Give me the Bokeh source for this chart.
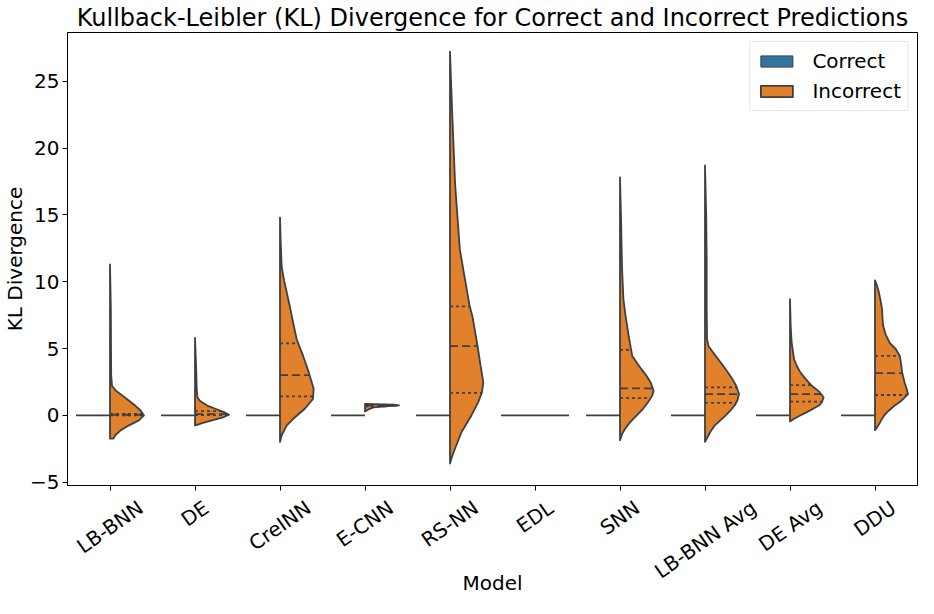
import numpy as np
from bokeh.plotting import figure
from bokeh.models import FixedTicker, Range1d, Legend, LegendItem
from bokeh.embed import file_html
from bokeh.resources import INLINE

# ---------------- data ----------------
models = ["LB-BNN", "DE", "CreINN", "E-CNN", "RS-NN", "EDL", "SNN",
          "LB-BNN Avg", "DE Avg", "DDU"]

# "Correct" predictions: every model collapses to a single value
correct_value = [0.0, 0.0, 0.0, 0.0, 0.0, 0.0, 0.0, 0.0, 0.0, 0.0]

# "Incorrect" predictions: estimated density profile (KL value, relative width)
inc_lbbnn_y = [-1.73, -1.48, -1.1, -0.74, -0.37, 0.0, 0.37, 0.74, 1.1, 1.48, 1.85, 2.2,
               3.0, 5.0, 8.0, 11.3]
inc_lbbnn_w = [0.1, 0.155, 0.32, 0.56, 0.85, 1.0, 0.9, 0.74, 0.56, 0.37, 0.175, 0.06,
               0.035, 0.03, 0.025, 0.0]
inc_de_y = [-0.74, -0.57, -0.37, -0.12, 0.05, 0.25, 0.5, 0.74, 1.1, 1.36, 2.0, 3.5, 5.8]
inc_de_w = [0.02, 0.21, 0.5, 0.85, 1.0, 0.85, 0.6, 0.36, 0.14, 0.07, 0.05, 0.035, 0.0]
inc_creinn_y = [-1.98, -1.48, -0.74, -0.25, 0.5, 1.24, 2.0, 3.2, 4.45, 5.7, 6.9, 8.16,
                10.1, 11.1, 13.0, 14.8]
inc_creinn_w = [0.0, 0.05, 0.2, 0.39, 0.73, 0.97, 0.99, 0.85, 0.68, 0.49, 0.39, 0.29,
                0.12, 0.05, 0.02, 0.0]
inc_ecnn_y = [0.3, 0.45, 0.6, 0.7, 0.75, 0.8, 0.87]
inc_ecnn_w = [0.0, 0.1, 0.25, 0.7, 1.0, 0.85, 0.0]
inc_rsnn_y = [-3.6, -3.0, -2.47, -1.24, 0.0, 1.0, 1.73, 2.47, 3.7, 5.2, 7.4, 8.16, 9.9,
              12.4, 17.3, 22.3, 25.0, 27.2]
inc_rsnn_w = [0.0, 0.07, 0.15, 0.34, 0.63, 0.83, 0.94, 0.98, 0.9, 0.81, 0.66, 0.58, 0.46,
              0.29, 0.15, 0.07, 0.03, 0.0]
inc_edl_y = [0.0]          # degenerate: all values equal
inc_edl_w = [1.0]
inc_snn_y = [-1.85, -1.4, -1.0, -0.5, 0.0, 0.5, 1.0, 1.5, 1.85, 2.47, 3.0, 3.46, 4.0,
             4.45, 5.3, 6.2, 7.5, 8.7, 11.0, 14.8, 17.8]
inc_snn_w = [0.0, 0.06, 0.15, 0.3, 0.49, 0.68, 0.83, 0.95, 0.99, 0.9, 0.77, 0.63, 0.48,
             0.36, 0.3, 0.24, 0.16, 0.1, 0.06, 0.03, 0.0]
inc_lbbnnavg_y = [-1.98, -1.5, -1.1, -0.74, -0.37, 0.0, 0.37, 0.74, 1.1, 1.6, 2.2, 2.7,
                  3.2, 3.7, 4.2, 4.7, 5.2, 5.7, 8.0, 11.6, 15.0, 18.7]
inc_lbbnnavg_w = [0.0, 0.1, 0.19, 0.29, 0.45, 0.61, 0.75, 0.87, 0.95, 1.0, 0.92, 0.81,
                  0.68, 0.54, 0.39, 0.24, 0.1, 0.06, 0.05, 0.05, 0.035, 0.0]
inc_deavg_y = [-0.45, -0.25, 0.0, 0.25, 0.5, 0.74, 1.0, 1.36, 1.8, 2.2, 2.7, 3.2, 3.7,
               4.2, 5.4, 6.7, 8.7]
inc_deavg_w = [0.0, 0.12, 0.3, 0.5, 0.68, 0.85, 0.94, 0.99, 0.85, 0.65, 0.47, 0.31, 0.2,
               0.12, 0.05, 0.02, 0.0]
inc_ddu_y = [-1.1, -0.74, -0.37, 0.0, 0.37, 0.74, 1.1, 1.6, 2.0, 2.47, 3.2, 3.8, 4.45,
             5.0, 5.4, 6.0, 6.7, 7.3, 7.9, 8.5, 9.15, 9.7, 10.1]
inc_ddu_w = [0.0, 0.1, 0.18, 0.27, 0.41, 0.58, 0.78, 0.97, 0.93, 0.87, 0.8, 0.77, 0.73,
             0.6, 0.44, 0.32, 0.24, 0.22, 0.21, 0.17, 0.12, 0.06, 0.0]

# quartiles of the incorrect distributions: (Q1, median, Q3)
inc_q1 = [0.01, 0.03, 1.43, 0.68, 1.68, 0.0, 1.29, 0.94, 1.04, 1.53]
inc_median = [0.05, 0.10, 3.02, 0.74, 5.19, 0.0, 2.03, 1.60, 1.60, 3.17]
inc_q3 = [0.12, 0.32, 5.39, 0.78, 8.16, 0.0, 4.90, 2.10, 2.27, 4.45]

y_ticks = [-5, 0, 5, 10, 15, 20, 25]

inc_profiles_y = [inc_lbbnn_y, inc_de_y, inc_creinn_y, inc_ecnn_y, inc_rsnn_y,
                  inc_edl_y, inc_snn_y, inc_lbbnnavg_y, inc_deavg_y, inc_ddu_y]
inc_profiles_w = [inc_lbbnn_w, inc_de_w, inc_creinn_w, inc_ecnn_w, inc_rsnn_w,
                  inc_edl_w, inc_snn_w, inc_lbbnnavg_w, inc_deavg_w, inc_ddu_w]

# ---------------- style ----------------
HALF = 0.4
FONT = "DejaVu Sans"
EDGE = "#3f3f3f"
BLUE = "#3274a1"
ORANGE = "#e1812c"
LW = 1.8
TICK_FS = 20
ROT = np.deg2rad(35)
W, H = 918, 598
BORDER_L, BORDER_R = 61, 1
PX_PER_CAT = (W - BORDER_L - BORDER_R) / len(models)

# DejaVu Sans advance widths (em): used to centre the rotated tick labels on
# their ticks the way matplotlib does (Bokeh right-aligns rotated labels).
DJV = {"L": 0.557, "B": 0.686, "-": 0.361, "N": 0.748, "D": 0.770, "E": 0.632,
       "C": 0.698, "r": 0.411, "e": 0.615, "I": 0.295, "R": 0.695, "S": 0.635,
       " ": 0.318, "A": 0.684, "v": 0.592, "g": 0.635, "U": 0.722}

p = figure(width=W, height=H, output_backend="svg", toolbar_location=None,
           x_range=Range1d(-0.5, 9.5), y_range=Range1d(-5.24, 28.64),
           min_border_left=BORDER_L, min_border_right=BORDER_R, min_border_top=4,
           min_border_bottom=100)

p.title.text = "Kullback-Leibler (KL) Divergence for Correct and Incorrect Predictions"
p.title.align = "center"
p.title.text_font = FONT
p.title.text_font_size = "24px"
p.title.text_font_style = "normal"
p.title.text_color = "black"
p.title.standoff = 2

p.xgrid.visible = False
p.ygrid.visible = False
p.outline_line_color = "black"
p.outline_line_width = 1
p.background_fill_color = "white"

centers = np.arange(len(models))

# Correct: degenerate -> horizontal line on the left half
p.segment(x0=centers - HALF, y0=correct_value, x1=centers, y1=correct_value,
          line_color=EDGE, line_width=LW)

# Incorrect: right half violins
xs, ys = [], []
deg_x0, deg_y = [], []
for i, (yy, ww) in enumerate(zip(inc_profiles_y, inc_profiles_w)):
    yy = np.asarray(yy, dtype=float)
    ww = np.asarray(ww, dtype=float)
    if len(yy) == 1:
        deg_x0.append(i)
        deg_y.append(yy[0])
        continue
    xs.append(np.concatenate([[i], i + HALF * ww, [i]]))
    ys.append(np.concatenate([[yy[0]], yy, [yy[-1]]]))

r_inc = p.patches(xs=xs, ys=ys, fill_color=ORANGE, line_color=EDGE, line_width=LW,
                  line_join="round")
p.segment(x0=deg_x0, y0=deg_y, x1=np.asarray(deg_x0) + HALF, y1=deg_y,
          line_color=EDGE, line_width=LW)

# quartile lines
qx0, qx1, qy = [], [], []
mx0, mx1, my = [], [], []
for i, (yy, ww) in enumerate(zip(inc_profiles_y, inc_profiles_w)):
    if len(yy) == 1:
        continue
    for q in (inc_q1[i], inc_q3[i]):
        qx0.append(i)
        qx1.append(i + HALF * np.interp(q, yy, ww))
        qy.append(q)
    m = inc_median[i]
    mx0.append(i)
    mx1.append(i + HALF * np.interp(m, yy, ww))
    my.append(m)
p.segment(x0=qx0, y0=qy, x1=qx1, y1=qy, line_color=EDGE, line_width=LW, line_dash="3 3")
p.segment(x0=mx0, y0=my, x1=mx1, y1=my, line_color=EDGE, line_width=LW, line_dash="8 4")

# legend proxy for Correct (no visible mark of its own)
r_cor = p.quad(left=[np.nan], right=[np.nan], top=[np.nan], bottom=[np.nan],
               fill_color=BLUE, line_color=EDGE, line_width=1)

legend = Legend(items=[LegendItem(label="Correct", renderers=[r_cor]),
                       LegendItem(label="Incorrect", renderers=[r_inc])],
                location="top_right")
legend.label_text_font = FONT
legend.label_text_font_size = "20px"
legend.label_text_color = "black"
legend.glyph_width = 40
legend.glyph_height = 14
legend.label_height = 26
legend.label_standoff = 16
legend.spacing = 4
legend.padding = 6
legend.margin = 9
legend.border_line_color = "#cccccc"
legend.border_line_width = 1
legend.background_fill_alpha = 0.8
p.add_layout(legend)

# axes
for ax in (p.xaxis[0], p.yaxis[0]):
    ax.axis_line_color = "black"
    ax.major_tick_line_color = "black"
    ax.major_tick_out = 5
    ax.major_tick_in = 0
    ax.minor_tick_line_color = None
    ax.major_label_text_font = FONT
    ax.major_label_text_font_size = f"{TICK_FS}px"
    ax.major_label_text_color = "black"
    ax.axis_label_text_font = FONT
    ax.axis_label_text_font_size = "20px"
    ax.axis_label_text_font_style = "normal"
    ax.axis_label_text_color = "black"

p.yaxis.ticker = FixedTicker(ticks=y_ticks)
p.yaxis.major_label_overrides = {t: ("\u2212" + str(-t) if t < 0 else str(t)) for t in y_ticks}
p.yaxis.axis_label = "KL Divergence"
p.yaxis.major_label_standoff = 3
p.yaxis.axis_label_standoff = 0

# x axis: tick marks (minor ticks) on each category; the label anchors
# (invisible major ticks) are moved so each rotated label is centred on its tick.
label_pos = []
for i, m in enumerate(models):
    L = sum(DJV.get(c, 0.6) for c in m) * TICK_FS
    label_pos.append(round(i + (L * np.cos(ROT) / 2) / PX_PER_CAT, 4))

xa = p.xaxis[0]
xa.ticker = FixedTicker(ticks=label_pos, minor_ticks=list(range(len(models))))
xa.major_label_overrides = {pos: m for pos, m in zip(label_pos, models)}
xa.major_label_orientation = ROT
xa.major_tick_line_color = None
xa.major_tick_out = 0
xa.minor_tick_line_color = "black"
xa.minor_tick_out = 5
xa.minor_tick_in = 0
xa.major_label_standoff = 15
xa.axis_label = "Model"
xa.axis_label_standoff = -25
xa.axis_label_text_line_height = 0.5

open("out.html", "w").write(file_html(p, INLINE))
